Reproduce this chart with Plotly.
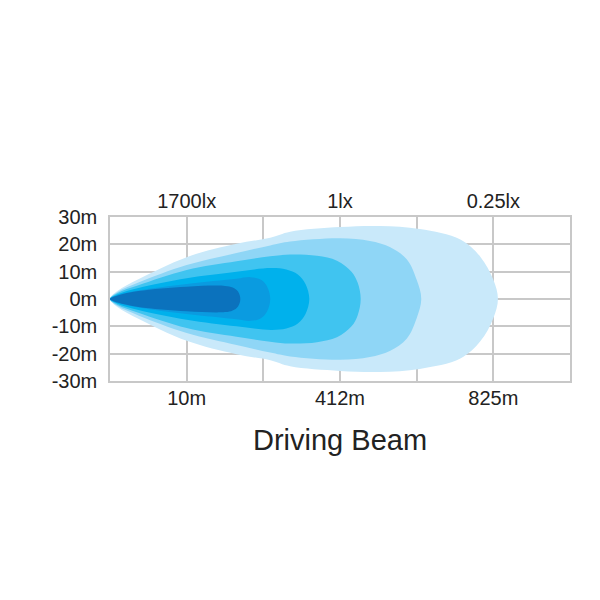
import plotly.graph_objects as go

# Grid positions (distance axis in grid units) and labels
grid_x = [0, 1, 2, 3, 4, 5, 6]
bottom_labels = ["", "10m", "", "412m", "", "825m", ""]
top_labels = ["", "1700lx", "", "1lx", "", "0.25lx", ""]
y_vals = [30, 20, 10, 0, -10, -20, -30]
y_labels = ["30m", "20m", "10m", "0m", "-10m", "-20m", "-30m"]

# Beam contour top edges (distance in grid units, half-width in m), outermost first
l6_dist = [0, 0.1, 0.37, 1.0, 1.65, 2.09, 2.35, 3.0, 3.52, 4.04, 4.57, 4.83, 5.0, 5.06]
l6_half = [0, 3.0, 7.2, 15.3, 20.2, 22.4, 24.6, 26.3, 26.7, 25.6, 21.8, 15.5, 7.0, 0]
l5_dist = [0, 0.1, 0.37, 1.0, 1.65, 2.09, 2.35, 3.0, 3.39, 3.65, 3.87, 4.0, 4.06]
l5_half = [0, 2.6, 6.0, 12.4, 16.8, 19.6, 21.0, 22.2, 21.2, 19.0, 14.5, 7.0, 0]
l4_dist = [0, 0.1, 0.37, 1.0, 1.65, 2.09, 2.35, 2.7, 2.96, 3.15, 3.23, 3.27]
l4_half = [0, 2.2, 5.0, 10.6, 13.8, 15.6, 16.3, 15.8, 14.0, 10.0, 6.0, 0]
l3_dist = [0, 0.1, 0.37, 1.0, 1.65, 2.1, 2.3, 2.45, 2.55, 2.6]
l3_half = [0, 1.7, 4.0, 7.6, 10.0, 11.3, 10.8, 9.0, 5.5, 0]
l2_dist = [0, 0.1, 0.37, 1.0, 1.65, 1.83, 1.97, 2.05, 2.09]
l2_half = [0, 1.4, 3.1, 5.5, 7.4, 8.0, 7.0, 4.5, 0]
l1_dist = [0, 0.1, 0.37, 1.0, 1.5, 1.6, 1.67, 1.70]
l1_half = [0, 1.3, 2.9, 4.5, 4.8, 4.2, 2.7, 0]

layers = [
    (l6_dist, l6_half, "#c9e9fa"),
    (l5_dist, l5_half, "#8fd6f6"),
    (l4_dist, l4_half, "#40c4f0"),
    (l3_dist, l3_half, "#00b1ec"),
    (l2_dist, l2_half, "#0a9be0"),
    (l1_dist, l1_half, "#0b72bd"),
]

fig = go.Figure()
for dist, half, color in layers:
    xs = dist[::-1] + dist[1:]
    ys = half[::-1] + [-v for v in half[1:]]
    fig.add_trace(go.Scatter(
        x=xs, y=ys, mode="lines", fill="toself", fillcolor=color,
        line=dict(color=color, width=0, shape="spline", smoothing=1.0),
        hoverinfo="skip", showlegend=False,
    ))

# invisible traces on the label axes so they render
fig.add_trace(go.Scatter(x=[0, 6], y=[0, 0], xaxis="x2", mode="markers",
                         marker=dict(opacity=0), hoverinfo="skip", showlegend=False))
fig.add_trace(go.Scatter(x=[0, 6], y=[0, 0], xaxis="x3", mode="markers",
                         marker=dict(opacity=0), hoverinfo="skip", showlegend=False))

font_family = "Arial, 'Liberation Sans', Helvetica, sans-serif"
grid_col = "#c8c8c8"

fig.update_layout(
    width=600, height=600,
    margin=dict(l=102, r=38, t=209, b=227),
    paper_bgcolor="white", plot_bgcolor="white",
    font=dict(family=font_family, size=20, color="#222222"),
    xaxis=dict(
        range=[0, 6], tickmode="array", tickvals=grid_x, showticklabels=False,
        showgrid=True, gridcolor=grid_col, gridwidth=1.5, zeroline=False,
        showline=True, linecolor=grid_col, linewidth=1.5, mirror=True,
        ticks="", ticklen=0, layer="below traces",
    ),
    xaxis2=dict(
        range=[0, 6], overlaying="x", side="top", tickmode="array",
        tickvals=grid_x, ticktext=top_labels, showgrid=False, zeroline=False,
        showline=False, ticks="", ticklen=0, layer="below traces", ticklabelstandoff=4,
    ),
    xaxis3=dict(
        range=[0, 6], overlaying="x", side="bottom", anchor="free", position=0,
        tickmode="array", tickvals=grid_x, ticktext=bottom_labels,
        showgrid=False, zeroline=False, showline=False, ticks="", ticklen=0,
        layer="below traces", ticklabelstandoff=3,
    ),
    yaxis=dict(
        range=[-30, 30], tickmode="array", tickvals=y_vals, ticktext=y_labels,
        showgrid=True, gridcolor=grid_col, gridwidth=1.5, zeroline=False,
        showline=True, linecolor=grid_col, linewidth=1.5, mirror=True,
        ticks="", ticklen=0, layer="below traces", ticklabelstandoff=7,
    ),
    annotations=[dict(
        text="Driving Beam", xref="paper", yref="paper", x=0.5, y=-0.36,
        xanchor="center", yanchor="middle", showarrow=False,
        font=dict(family=font_family, size=29, color="#222222"),
    )],
)

fig.write_html("out.html")
